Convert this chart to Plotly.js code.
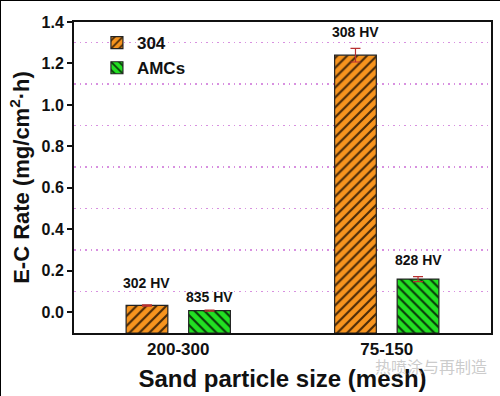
<!DOCTYPE html>
<html>
<head>
<meta charset="utf-8">
<script src="https://cdn.plot.ly/plotly-3.0.1.min.js"></script>
<style>
html,body{margin:0;padding:0;background:#fff;}
#chart{width:498px;height:394px;border:1px solid #000;}
</style>
</head>
<body>
<div id="chart"></div>
<script>
var categories = ['200-300', '75-150'];
var series304 = [0.033, 1.24];
var err304 = [0.003, 0.033];
var seriesAMC = [0.008, 0.16];
var errAMC = [0.003, 0.012];
var labels304 = ['302 HV', '308 HV'];
var labelsAMC = ['835 HV', '828 HV'];
var yMin = -0.1, yMax = 1.4;

var FONT = 'Liberation Sans, Arial, sans-serif';

function fromBase(arr) { return arr.map(function(v){ return v - yMin; }); }

var traces = [
  {
    type: 'bar', name: '304', x: categories, y: fromBase(series304), base: yMin,
    marker: {color: '#F7941E', line: {color: '#222', width: 1.2},
      pattern: {shape: '/', fgcolor: '#4a2a08', bgcolor: '#F7941E', size: 7, solidity: 0.3}},
    error_y: {type: 'data', array: err304, visible: true, color: '#b83030', thickness: 1.2, width: 5}
  },
  {
    type: 'bar', name: 'AMCs', x: categories, y: fromBase(seriesAMC), base: yMin,
    marker: {color: '#22E022', line: {color: '#222', width: 1.2},
      pattern: {shape: '\\', fgcolor: '#0a3a0a', bgcolor: '#22E022', size: 7, solidity: 0.3}},
    error_y: {type: 'data', array: errAMC, visible: true, color: '#b83030', thickness: 1.2, width: 5}
  }
];

var ann = [];
var yshifts304 = [12, 6];
var yshiftsAMC = [3, 7];
categories.forEach(function(c, i) {
  ann.push({x: i - 0.15, y: series304[i] + err304[i], xref: 'x', yref: 'y', text: labels304[i],
    showarrow: false, yanchor: 'bottom', yshift: yshifts304[i], font: {family: FONT, size: 14, color: '#111', weight: 'bold'}});
  ann.push({x: i + 0.15, y: seriesAMC[i] + errAMC[i], xref: 'x', yref: 'y', text: labelsAMC[i],
    showarrow: false, yanchor: 'bottom', yshift: yshiftsAMC[i], font: {family: FONT, size: 14, color: '#111', weight: 'bold'}});
});
ann.push({x: 0.995, y: -0.107, xref: 'paper', yref: 'paper', xanchor: 'right', yanchor: 'middle', showarrow: false,
  text: '热喷涂与再制造', font: {family: 'Noto Sans CJK SC', size: 16, color: 'rgba(190,190,190,0.8)'}});

var layout = {
  width: 500, height: 396,
  margin: {l: 73, r: 10, t: 21, b: 64},
  paper_bgcolor: '#fff', plot_bgcolor: '#fff',
  font: {family: FONT, color: '#111'},
  barmode: 'group', bargap: 0.4, bargroupgap: 0.3333,
  showlegend: true,
  legend: {x: 0.055, y: 0.99, xanchor: 'left', yanchor: 'top', bgcolor: 'rgba(0,0,0,0)',
    font: {family: FONT, size: 17, color: '#111', weight: 'bold'}, tracegroupgap: 0, itemwidth: 30},
  xaxis: {
    type: 'category', range: [-0.5, 1.5],
    showline: true, linecolor: '#111', linewidth: 2, mirror: true,
    ticks: '', showgrid: false,
    tickfont: {family: FONT, size: 17, color: '#111', weight: 'bold'},
    title: {text: 'Sand particle size (mesh)', font: {family: FONT, size: 24, color: '#111', weight: 'bold'}, standoff: 12}
  },
  yaxis: {
    range: [yMin, yMax], tick0: 0, dtick: 0.2, tickformat: '.1f',
    showline: true, linecolor: '#111', linewidth: 2, mirror: true,
    ticks: 'outside', ticklen: 5, tickwidth: 2, tickcolor: '#111',
    zeroline: false, showgrid: false,
    minor: {dtick: 0.1, tick0: 0, showgrid: true, gridcolor: '#d890e0', griddash: '1.5px,4px', gridwidth: 1.5, ticks: ''},
    tickfont: {family: FONT, size: 16, color: '#111', weight: 'bold'},
    title: {text: 'E-C Rate (mg/cm<sup>2</sup>·h)', font: {family: FONT, size: 22, color: '#111', weight: 'bold'}, standoff: 6}
  },
  annotations: ann
};

Plotly.newPlot('chart', traces, layout, {displayModeBar: false, staticPlot: true});
</script>
</body>
</html>
